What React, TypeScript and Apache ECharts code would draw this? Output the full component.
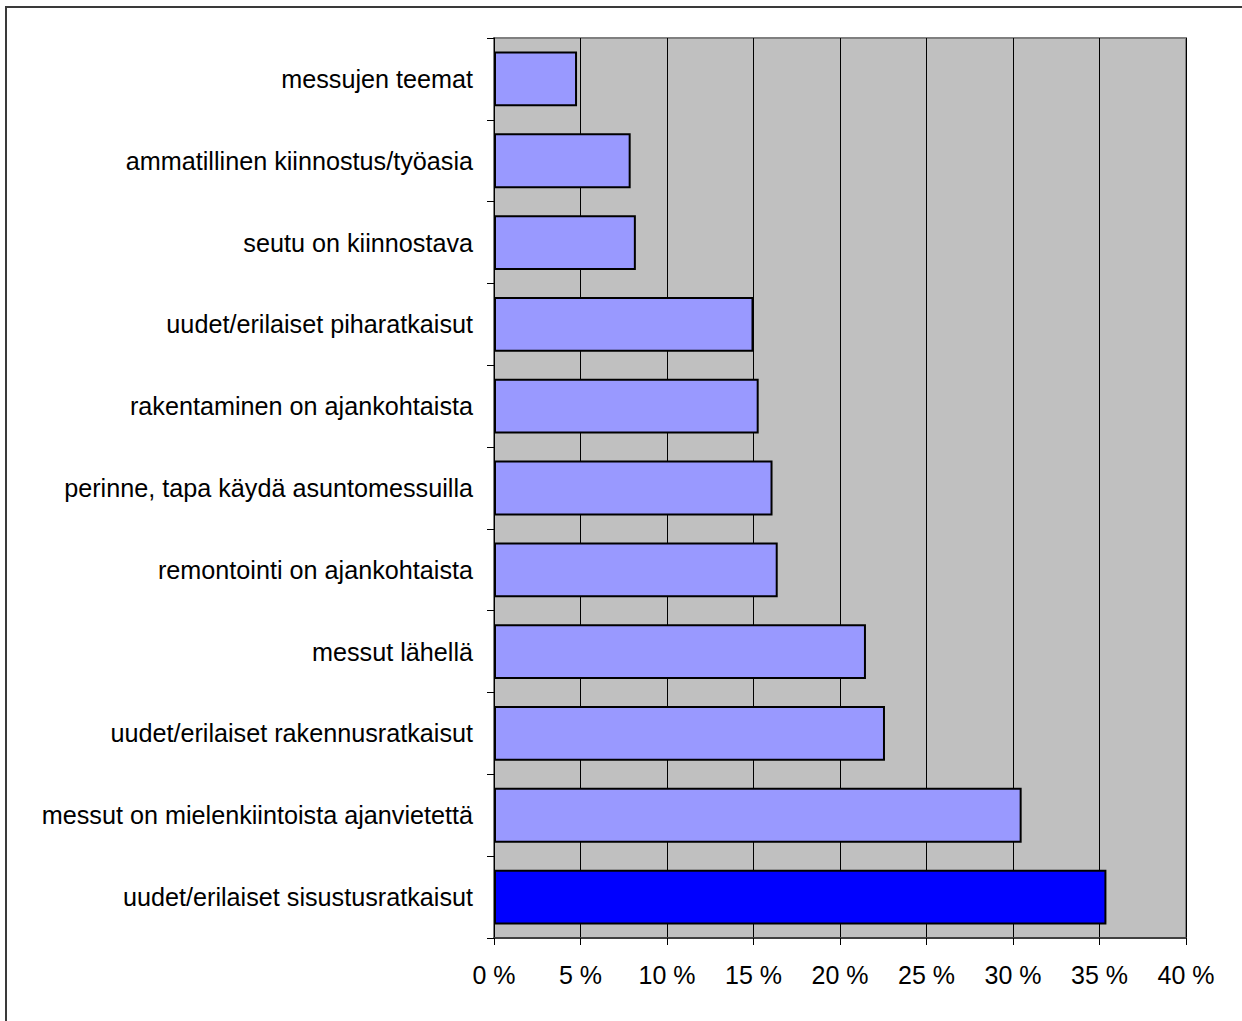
import React, { useEffect, useRef } from "react";
import * as echarts from "echarts";

// Reasons for visiting the housing fair, top to bottom
const categories: string[] = [
  "messujen teemat",
  "ammatillinen kiinnostus/työasia",
  "seutu on kiinnostava",
  "uudet/erilaiset piharatkaisut",
  "rakentaminen on ajankohtaista",
  "perinne, tapa käydä asuntomessuilla",
  "remontointi on ajankohtaista",
  "messut lähellä",
  "uudet/erilaiset rakennusratkaisut",
  "messut on mielenkiintoista ajanvietettä",
  "uudet/erilaiset sisustusratkaisut",
];

// Share of respondents, percent
const shares: number[] = [4.8, 7.9, 8.2, 15.0, 15.3, 16.1, 16.4, 21.5, 22.6, 30.5, 35.4];

const xMin = 0;
const xMax = 40;
const xStep = 5;

const barColor = "#9999ff";
const topBarColor = "#0000ff";

export default function App() {
  const ref = useRef<HTMLDivElement>(null);

  useEffect(() => {
    if (!ref.current) return;
    const chart = echarts.init(ref.current, undefined, { renderer: "svg" });
    const topIndex = shares.indexOf(Math.max(...shares));
    const font = "Liberation Sans, Arial, sans-serif";

    chart.setOption({
      animation: false,
      backgroundColor: "#ffffff",
      graphic: [
        {
          type: "rect",
          shape: { x: 6, y: 7, width: 1300, height: 1100 },
          style: { fill: "none", stroke: "#3a3a3a", lineWidth: 2 },
          silent: true,
        },
      ],
      grid: {
        left: 494,
        top: 38,
        width: 692,
        height: 900,
        show: true,
        backgroundColor: "#c0c0c0",
        borderColor: "#808080",
        borderWidth: 2,
      },
      xAxis: {
        type: "value",
        min: xMin,
        max: xMax,
        interval: xStep,
        axisLine: { show: true, lineStyle: { color: "#404040", width: 2 } },
        axisTick: { show: true, length: 7, lineStyle: { color: "#000000", width: 1 } },
        axisLabel: {
          formatter: "{value} %",
          color: "#000000",
          fontFamily: font,
          fontSize: 25,
          margin: 24,
        },
        splitLine: { show: true, lineStyle: { color: "#000000", width: 1 } },
      },
      yAxis: {
        type: "category",
        data: categories,
        inverse: true,
        axisLine: { show: true, lineStyle: { color: "#000000", width: 1 } },
        axisTick: { show: true, length: 7, lineStyle: { color: "#000000", width: 1 } },
        axisLabel: {
          color: "#000000",
          fontFamily: font,
          fontSize: 25.2,
          margin: 21,
        },
        splitLine: { show: false },
      },
      series: [
        {
          type: "bar",
          data: shares.map((v, i) => ({
            value: v,
            itemStyle: { color: i === topIndex ? topBarColor : barColor },
          })),
          barCategoryGap: "33%",
          itemStyle: { borderColor: "#000000", borderWidth: 2 },
        },
      ],
    });

    return () => chart.dispose();
  }, []);

  return (
    <div
      ref={ref}
      style={{ position: "fixed", left: 0, top: 0, width: 1242, height: 1021 }}
    />
  );
}
